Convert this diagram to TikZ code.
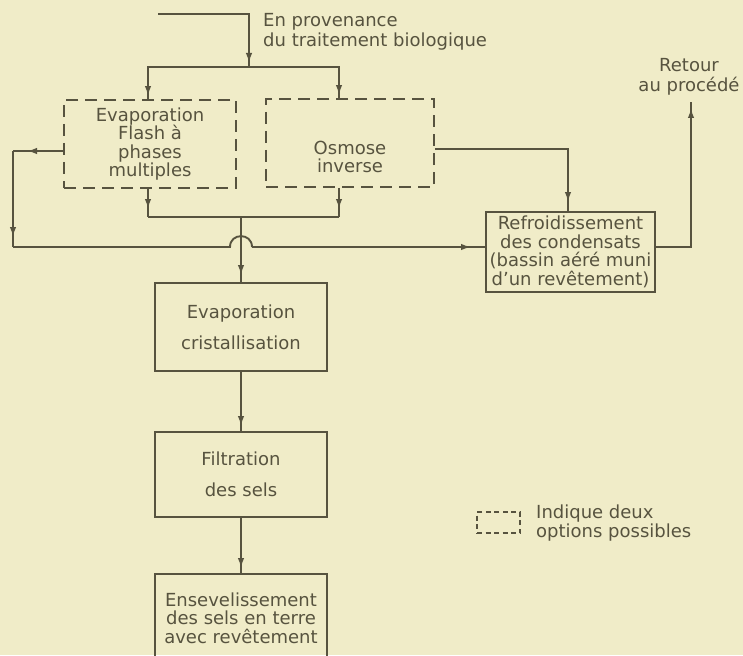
\documentclass[tikz,border=0pt]{standalone}
\usepackage{fontspec}
\setmainfont{DejaVu Sans}
\usetikzlibrary{decorations.markings,arrows.meta}
\definecolor{bg}{HTML}{F0ECC8}
\definecolor{ink}{HTML}{57533F}
\tikzset{
  lbl/.style={text=ink, font=\fontsize{18}{18.5}\selectfont, inner sep=0pt, align=center},
  box/.style={lbl, draw=ink, line width=1.9pt},
  dbox/.style={box, dash pattern=on 12pt off 7pt},
  wide/.style={font=\fontsize{18}{31}\selectfont},
  link/.style={draw=ink, color=ink, line width=1.9pt},
  arrowat/.style={link, postaction={decorate},
    decoration={markings, mark=at position #1 with {\arrow{Latex[length=10pt,width=6.5pt]}}}}
}
\begin{document}
\begin{tikzpicture}[x=1pt,y=-1pt]
\useasboundingbox (0,0) rectangle (743,655);
\fill[bg] (0,0) rectangle (743,655);

% boxes
\node[dbox, minimum width=172pt, minimum height=88pt] (db1) at (150,144) {Evaporation\\Flash à\\phases\\multiples};
\node[dbox, minimum width=168pt, minimum height=88pt] (db2) at (350,143) {};
\node[lbl] (osm) at (350,157) {Osmose\\inverse};
\node[box, minimum width=169pt, minimum height=80pt] (ref) at (570.5,252) {Refroidissement\\des condensats\\(bassin aéré muni\\d'un revêtement)};
\node[box, wide, minimum width=172pt, minimum height=88pt] (ec) at (241,327) {Evaporation\\cristallisation};
\node[box, wide, minimum width=172pt, minimum height=85pt] (fil) at (241,474.5) {Filtration\\des sels};
\begin{scope}
\clip (0,0) rectangle (743,655);
\node[box, minimum width=172pt, minimum height=88pt] (ens) at (241,618) {Ensevelissement\\des sels en terre\\avec revêtement};
\end{scope}

% texts
\node[lbl, anchor=west, align=left, font=\fontsize{18}{20}\selectfont] (src) at (263,32) {En provenance\\du traitement biologique};
\node[lbl, font=\fontsize{18}{20}\selectfont] (rt) at (689,77) {Retour\\au procédé};
\node[draw=ink, line width=1.5pt, dash pattern=on 5pt off 3.5pt, minimum width=43pt, minimum height=21pt, inner sep=0pt] (leg) at (498.5,522.5) {};
\node[lbl, anchor=west, align=left, font=\fontsize{18}{19}\selectfont] (legt) at (536,523) {Indique deux\\options possibles};

% coordinates
\coordinate (in) at (158,14);
\coordinate (sp) at (249,67);
\coordinate (m1) at (148,217);
\coordinate (m2) at (339,217);
\coordinate (mj) at (241,217);
\coordinate (l1) at (13,151);
\coordinate (l2) at (13,247);
\coordinate (hopL) at (230,247);
\coordinate (hopR) at (252,247);
\coordinate (ret) at (691,102);

% connectors
\draw[arrowat=-4pt] (in) -| (sp);
\draw[arrowat=-3pt] (sp) -| ([xshift=-2pt]db1.north);
\draw[arrowat=-3pt] (sp) -| ([xshift=-11pt]db2.north);
\draw[arrowat=-8pt] ([xshift=-2pt]db1.south) -- (m1);
\draw[arrowat=-8pt] ([xshift=-11pt]db2.south) -- (m2);
\draw[link] (m1) -- (m2);
\draw[arrowat=-7pt] (mj) -- (ec.north);
\draw[arrowat=-14pt] ([yshift=-7pt]db1.west) -- (l1);
\draw[arrowat=-10pt] (l1) -- (l2);
\draw[link] (l2) -- (hopL) .. controls (230,232.5) and (252,232.5) .. (hopR);
\draw[arrowat=-14pt] (hopR) -- ([yshift=5pt]ref.west);
\draw[arrowat=-9pt] ([yshift=-6pt]db2.east) -| ([xshift=-2.5pt]ref.north);
\draw[arrowat=-6pt] ([yshift=5pt]ref.east) -| (ret);
\draw[arrowat=-5pt] (ec.south) -- (fil.north);
\draw[arrowat=-5pt] (fil.south) -- (ens.north);
\end{tikzpicture}
\end{document}
